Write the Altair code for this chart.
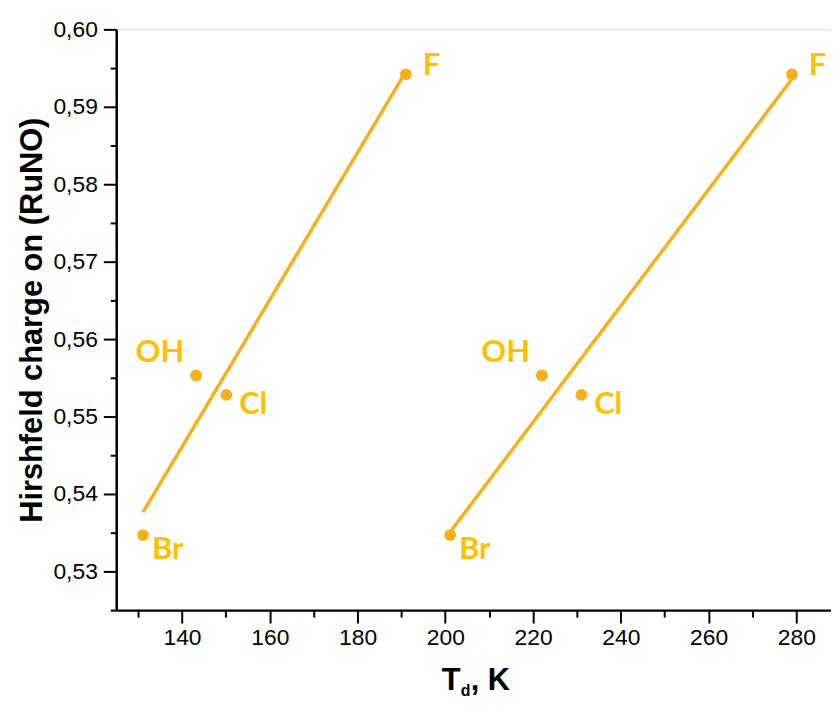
import altair as alt
import pandas as pd

labels = ["Br", "OH", "Cl", "F"]
td_left = [131.1, 143.2, 150.1, 191.0]
td_right = [201.1, 222.0, 231.0, 279.0]
charge = [0.5347, 0.5553, 0.5528, 0.5942]

x_major = [140, 160, 180, 200, 220, 240, 260, 280]
x_minor = [130, 150, 170, 190, 210, 230, 250, 270]
y_major = [0.53, 0.54, 0.55, 0.56, 0.57, 0.58, 0.59, 0.60]
y_minor = [0.525, 0.535, 0.545, 0.555, 0.565, 0.575, 0.585, 0.595]

rows = []
for lab, t, q in zip(labels, td_left, charge):
    rows.append({"label": lab, "td": t, "q": q, "series": "left"})
for lab, t, q in zip(labels, td_right, charge):
    rows.append({"label": lab, "td": t, "q": q, "series": "right"})
df = pd.DataFrame(rows)

DOT = "#F5B01C"
TXT = "#FFC000"
FONT = "Liberation Sans"

xscale = alt.Scale(domain=[125, 287.9], nice=False, zero=False)
yscale = alt.Scale(domain=[0.525, 0.60], nice=False, zero=False)

x_axis_major = alt.Axis(
    orient="bottom", values=x_major, tickSize=13, tickWidth=2, tickColor="black",
    domainWidth=2.5, domainColor="black", labelFontSize=23, labelFont=FONT,
    labelColor="black", labelPadding=4, grid=False, title=None, format="d",
)
x_axis_minor = alt.Axis(
    orient="bottom", values=x_minor, tickSize=7, tickWidth=2, tickColor="black",
    labels=False, domain=False, grid=False, title=None,
)
y_axis_major = alt.Axis(
    orient="left", values=y_major, tickSize=13, tickWidth=2, tickColor="black",
    domainWidth=2.5, domainColor="black", labelFontSize=23, labelFont=FONT,
    labelColor="black", labelPadding=6, grid=False,
    labelExpr="replace(format(datum.value, '.2f'), '.', ',')",
    title="Hirshfeld charge on (RuNO)", titleFont=FONT, titleFontSize=31,
    titleFontWeight="bold", titleColor="black", titlePadding=4,
)
y_axis_minor = alt.Axis(
    orient="left", values=y_minor, tickSize=6, tickWidth=2, tickColor="black",
    labels=False, domain=False, grid=False, title=None,
)

base = alt.Chart(df)

fit = base.transform_regression("td", "q", groupby=["series"]).mark_line(
    color=DOT, strokeWidth=3.5
).encode(
    x=alt.X("td:Q", scale=xscale, axis=x_axis_major),
    y=alt.Y("q:Q", scale=yscale, axis=y_axis_major),
    detail="series:N",
)

minor = base.mark_point(opacity=0).encode(
    x=alt.X("td:Q", scale=xscale, axis=x_axis_minor),
    y=alt.Y("q:Q", scale=yscale, axis=y_axis_minor),
)

pts = base.mark_circle(size=140, opacity=1, color=DOT).encode(
    x=alt.X("td:Q", axis=None), y=alt.Y("q:Q", axis=None)
)

label_style = {
    "F": dict(align="left", dx=17, dy=-8),
    "Br": dict(align="left", dx=9, dy=15),
    "OH": dict(align="right", dx=-12, dy=-23),
    "Cl": dict(align="left", dx=13, dy=10),
}
texts = []
for lab, st in label_style.items():
    texts.append(
        base.transform_filter(alt.datum.label == lab).mark_text(
            font="Lato", fontWeight="bold", fontSize=31, color=TXT,
            baseline="middle", **st
        ).encode(
            x=alt.X("td:Q", axis=None), y=alt.Y("q:Q", axis=None), text="label:N"
        )
    )

title_df = pd.DataFrame({"a": ["T"], "b": ["d"], "c": [", K"]})
t1 = alt.Chart(title_df).mark_text(
    font=FONT, fontWeight="bold", fontSize=31, align="left", baseline="alphabetic", color="black"
).encode(x=alt.value(328), y=alt.value(665), text="a:N")
t2 = alt.Chart(title_df).mark_text(
    font=FONT, fontWeight="bold", fontSize=16, align="left", baseline="alphabetic", color="black"
).encode(x=alt.value(347), y=alt.value(671), text="b:N")
t3 = alt.Chart(title_df).mark_text(
    font=FONT, fontWeight="bold", fontSize=31, align="left", baseline="alphabetic", color="black"
).encode(x=alt.value(357), y=alt.value(665), text="c:N")

chart = alt.layer(fit, minor, pts, *texts, t1, t2, t3).resolve_axis(
    x="independent", y="independent"
).properties(
    width=720, height=585,
    autosize=alt.AutoSizeParams(type="none"),
    padding={"left": 109, "top": 19, "right": 0, "bottom": 86},
).configure_view(stroke=None).configure(background="white")

chart.save("out.html", embed_options={"renderer": "svg", "actions": False})
